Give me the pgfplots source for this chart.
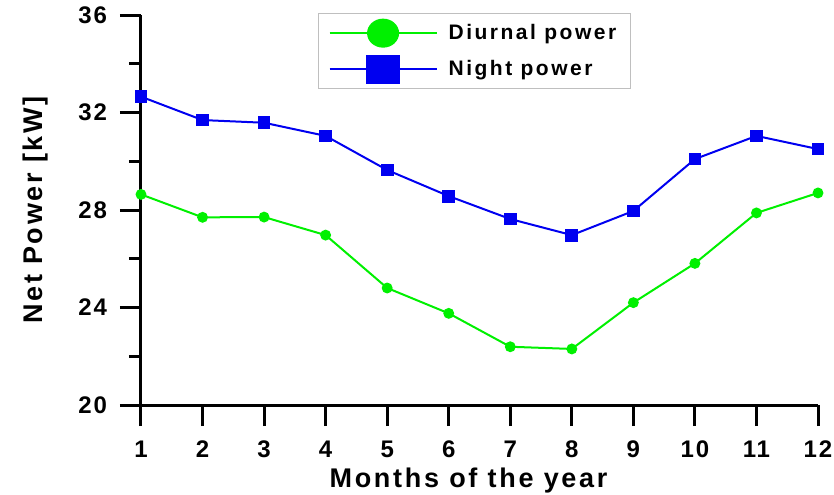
\documentclass[border=0pt]{standalone}
\usepackage{fontspec}
\setmainfont{Liberation Sans}
\usepackage{pgfplots}
\pgfplotsset{compat=1.18}
\usetikzlibrary{calc}
\definecolor{dgreen}{RGB}{0,240,0}
\definecolor{nblue}{RGB}{0,0,240}
\newfontfamily\lblfont{Liberation Sans Bold}[LetterSpace=10]
\newfontfamily\legfont{Liberation Sans Bold}[LetterSpace=12]
\newfontfamily\tickfont{Liberation Sans Bold}[LetterSpace=8]
\begin{document}
\begin{tikzpicture}
\begin{axis}[
  name=ax,
  scale only axis,
  width=338.5pt, height=195pt,
  xmin=1, xmax=12, ymin=20, ymax=36,
  clip=false,
  axis x line*=bottom, axis y line*=left,
  axis line style={-, line width=1.5pt},
  xtick={1,...,12},
  ytick={20,24,28,32,36},
  minor ytick={22,26,30,34},
  tick align=outside,
  major tick length=10.5pt,
  minor tick length=6pt,
  every tick/.style={black, line width=1.5pt},
  /pgf/number format/assume math mode=true,
  tick label style={font=\tickfont\fontsize{12}{14}\selectfont},
  xticklabel style={yshift=-4pt},
  yticklabel style={xshift=-3pt},
  xlabel={Months of the year},
  ylabel={Net Power [kW]},
  xlabel style={font=\lblfont\fontsize{13.5}{15}\selectfont, yshift=2pt, xshift=-5.5pt},
  ylabel style={font=\lblfont\fontsize{13.5}{15}\selectfont, yshift=8pt},
  legend style={
    at={(axis description cs:0.2614,1.005)}, anchor=north west,
    draw=black!25, line width=0.6pt,
    font=\legfont\fontsize{10.5}{12}\selectfont,
    inner xsep=5pt, inner ysep=2.5pt, row sep=3.5pt,
    legend cell align=left,
  },
]
\addplot[dgreen, line width=1pt, mark=*, mark size=2.2pt, mark options={draw=none, fill=dgreen},
  legend image code/.code={
    \draw[dgreen, line width=1pt] (0pt,0pt) -- (53.5pt,0pt);
    \fill[dgreen] (26.75pt,0pt) ellipse (7.5pt and 6.75pt);
    \path (57pt,0pt);
  }]
  coordinates {(1,28.64) (2,27.70) (3,27.71) (4,26.97) (5,24.80) (6,23.76)
               (7,22.39) (8,22.30) (9,24.20) (10,25.81) (11,27.88) (12,28.70)};
\addlegendentry{Diurnal power}
\addplot[nblue, line width=1pt, mark=square*, mark size=2.7pt, mark options={draw=none, fill=nblue},
  legend image code/.code={
    \draw[nblue, line width=1pt] (0pt,0pt) -- (53.5pt,0pt);
    \fill[nblue] (18.75pt,-6.75pt) rectangle (34.75pt,6.75pt);
    \path (57pt,0pt);
  }]
  coordinates {(1,32.65) (2,31.69) (3,31.58) (4,31.04) (5,29.64) (6,28.57)
               (7,27.63) (8,26.97) (9,27.96) (10,30.09) (11,31.04) (12,30.50)};
\addlegendentry{Night power}
\end{axis}
\pgfresetboundingbox
\path[use as bounding box] ($(ax.south west)+(-70.5pt,-44.5pt)$) rectangle ($(ax.north east)+(8pt,7.5pt)$);
\end{tikzpicture}
\end{document}
